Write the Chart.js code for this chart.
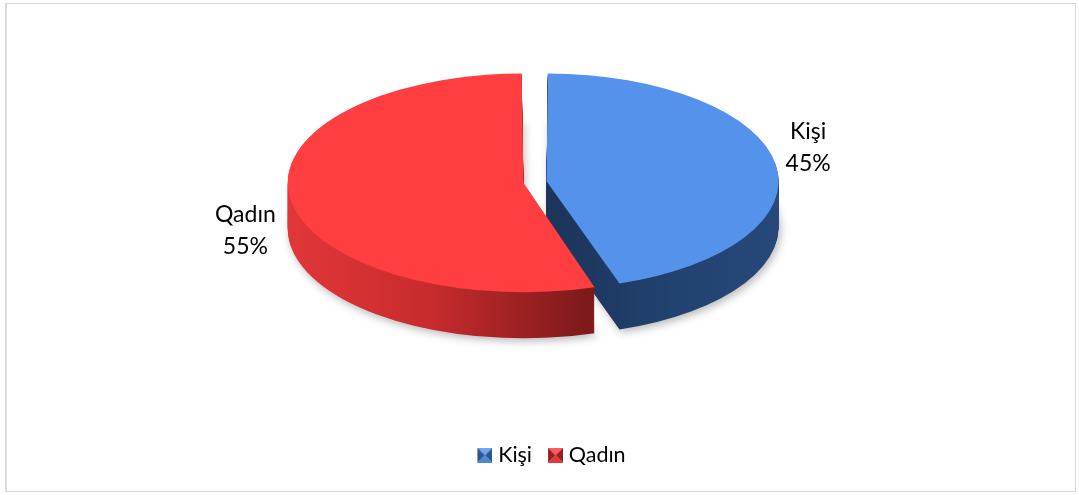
<!DOCTYPE html>
<html>
<head>
<meta charset="utf-8">
<script src="https://cdn.jsdelivr.net/npm/chart.js@4.4.0/dist/chart.umd.min.js"></script>
<style>
  html, body { margin: 0; padding: 0; background: #fff; }
  #frame { position: absolute; left: 5px; top: 3px; width: 1068px; height: 487px; border: 1px solid #d9d9d9; border-left-width: 2px; }
  #wrap { position: absolute; left: 0; top: 0; width: 1079px; height: 495px; }
</style>
</head>
<body>
<div id="frame"></div>
<div id="wrap"><canvas id="pieChart"></canvas></div>
<script>
const categories = ["Kişi", "Qadın"];
const shares = [45, 55];

const topColors = ["#5592EB", "#FE3E41"];
const sideStops = [["#1C355B", "#22426F", "#27497C"], ["#E3383A", "#C82B2D", "#7F1A1B"]];
const sideRange = [[547, 780], [287, 595]];
const labelGap = [7, 12];

// screen geometry of the tilted pie (base radii before the explode offset)
const CX = 535, CY = 182, RX = 224, RY = 104, DEPTH = 46;

function place(ctx, arc, dy) {
  ctx.translate(CX, CY + dy);
  ctx.scale(RX / arc.outerRadius, RY / arc.outerRadius);
  ctx.translate(-arc.x, -arc.y);
}

function makeIcon(light, mid, dark) {
  // 25px wide, square sits in the right 15px so the text gap is small
  const c = document.createElement("canvas");
  c.width = 25; c.height = 15;
  const g = c.getContext("2d");
  g.translate(10, 0);
  const tri = (pts, col) => {
    g.fillStyle = col;
    g.beginPath();
    g.moveTo(pts[0][0], pts[0][1]);
    g.lineTo(pts[1][0], pts[1][1]);
    g.lineTo(7.5, 7.5);
    g.closePath();
    g.fill();
  };
  tri([[0, 0], [15, 0]], light);
  tri([[0, 15], [15, 15]], mid);
  tri([[0, 0], [0, 15]], dark);
  tri([[15, 0], [15, 15]], dark);
  return c;
}
const icons = [makeIcon("#6FA5F2", "#4F88DB", "#2C5596"), makeIcon("#FF5A5C", "#E83538", "#9A1F22")];

const pie3d = {
  id: "pie3d",
  beforeDatasetsDraw(chart) {
    const ctx = chart.ctx;
    const arcs = chart.getDatasetMeta(0).data;
    const R = arcs[0].outerRadius, x0 = arcs[0].x;
    const fills = arcs.map((arc, i) => {
      const g = ctx.createLinearGradient(x0 + (sideRange[i][0] - CX) * R / RX, 0, x0 + (sideRange[i][1] - CX) * R / RX, 0);
      sideStops[i].forEach((c, j, a) => g.addColorStop(j / (a.length - 1), c));
      return g;
    });
    for (let d = DEPTH; d >= 1; d--) {
      ctx.save();
      place(ctx, arcs[0], d);
      if (d === DEPTH) {
        ctx.shadowColor = "rgba(0,0,0,0.28)";
        ctx.shadowBlur = 8;
        ctx.shadowOffsetX = 2;
        ctx.shadowOffsetY = 3;
      }
      arcs.forEach((arc, i) => {
        const o = arc.options;
        arc.options = Object.assign({}, o, { backgroundColor: fills[i], borderWidth: 0 });
        arc.draw(ctx);
        arc.options = o;
      });
      ctx.restore();
    }
    ctx.save();
    place(ctx, arcs[0], 0);
  },
  afterDatasetsDraw(chart) {
    const ctx = chart.ctx;
    ctx.restore();
    const arcs = chart.getDatasetMeta(0).data;
    ctx.save();
    ctx.font = "23px Lato";
    ctx.fillStyle = "#000";
    ctx.textAlign = "center";
    ctx.textBaseline = "middle";
    arcs.forEach((arc, i) => {
      const R = arc.outerRadius;
      const mid = (arc.startAngle + arc.endAngle) / 2;
      const circ = arc.endAngle - arc.startAngle;
      const tr = (arc.options.offset || 0) / 4;
      const ro = tr * (1 - Math.sin(Math.min(Math.PI, circ)));
      const cx = CX + Math.cos(mid) * tr * RX / R;
      const cy = CY + Math.sin(mid) * tr * RY / R;
      const rx = (R + ro) * RX / R, ry = (R + ro) * RY / R;
      const lines = [categories[i], shares[i] + "%"];
      const w = Math.max(...lines.map(t => ctx.measureText(t).width));
      const right = Math.cos(mid) > 0;
      const x = right ? cx + rx + labelGap[i] + w / 2 : cx - rx - labelGap[i] - w / 2;
      const y = cy + ry * Math.sin(mid) + (Math.sin(mid) > 0 ? DEPTH : 0) - (right ? 17 : 15);
      ctx.fillText(lines[0], x, y - 16);
      ctx.fillText(lines[1], x, y + 16);
    });
    ctx.restore();
  }
};

function build() {
  new Chart(document.getElementById("pieChart"), {
    type: "pie",
    data: {
      labels: categories,
      datasets: [{
        data: shares,
        backgroundColor: topColors,
        borderWidth: 0,
        offset: 40,
        hoverOffset: 0,
        clip: false
      }]
    },
    options: {
      responsive: true,
      maintainAspectRatio: false,
      animation: false,
      events: [],
      layout: { padding: { left: 19, top: 10, bottom: 19 } },
      plugins: {
        tooltip: { enabled: false },
        legend: {
          position: "bottom",
          labels: {
            usePointStyle: true,
            pointStyleWidth: 15,
            padding: 11,
            color: "#000",
            font: { family: "Lato", size: 21.5 },
            generateLabels(chart) {
              const items = Chart.overrides.doughnut.plugins.legend.labels.generateLabels(chart);
              items.forEach((it, i) => { it.pointStyle = icons[i]; });
              return items;
            }
          }
        }
      }
    },
    plugins: [pie3d]
  });
}

document.fonts.load("23px Lato").then(build, build);
</script>
</body>
</html>
